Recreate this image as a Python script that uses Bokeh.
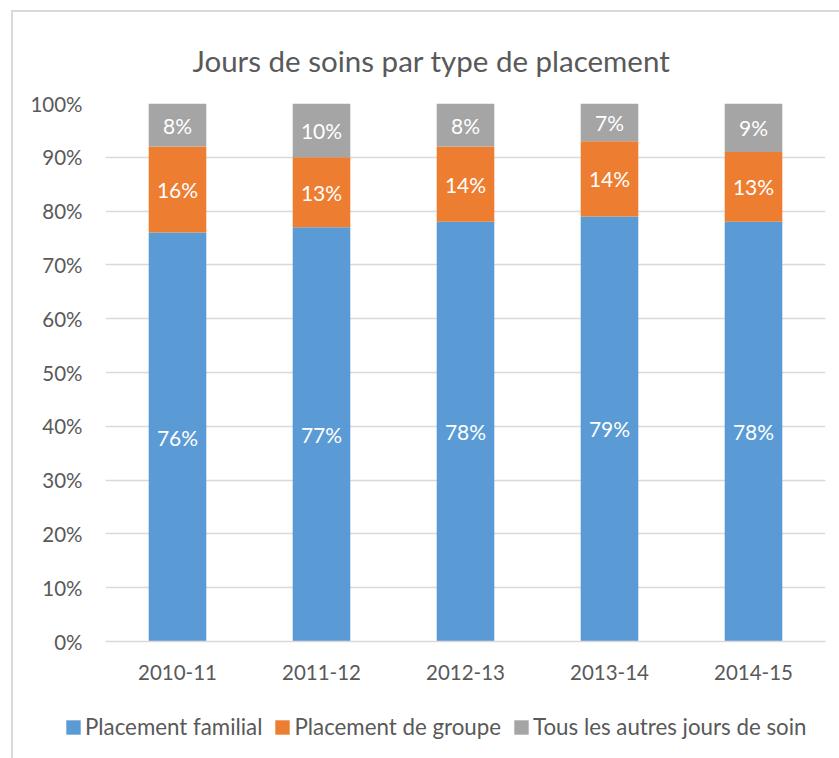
from bokeh.plotting import figure
from bokeh.models import (ColumnDataSource, Range1d, FactorRange, Legend,
                          LegendItem, FixedTicker)
from bokeh.core.properties import value
from bokeh.embed import file_html
from bokeh.resources import INLINE

# ---- data ----
years = ["2010-11", "2011-12", "2012-13", "2013-14", "2014-15"]
familial = [76, 77, 78, 79, 78]
groupe = [16, 13, 14, 14, 13]
autres = [8, 10, 8, 7, 9]
series_names = ["Placement familial", "Placement de groupe", "Tous les autres jours de soin"]
y_ticks = [0, 10, 20, 30, 40, 50, 60, 70, 80, 90, 100]
title_text = "Jours de soins par type de placement"

colors = ["#5B9BD5", "#ED7D31", "#A5A5A5"]
FONT = "Lato"
TXT = "#595959"
LINE = "linear-gradient(#D9D9D9,#D9D9D9)"

src = ColumnDataSource(dict(years=years, familial=familial, groupe=groupe, autres=autres))

p = figure(x_range=FactorRange(*years, range_padding=0), y_range=Range1d(0, 100),
           width=839, height=700, min_border_left=105, min_border_right=14,
           min_border_top=103, min_border_bottom=59,
           output_backend="svg", toolbar_location=None)
p.outline_line_color = None
p.background_fill_color = "white"
p.border_fill_alpha = 0
p.styles = {
    "background-color": "white",
    "background-image": f"{LINE}, {LINE}",
    "background-size": "2px 100%, 100% 2px",
    "background-position": "11px 10px, 11px 10px",
    "background-repeat": "no-repeat",
}

renderers = p.vbar_stack(["familial", "groupe", "autres"], x="years", width=0.4,
                         color=colors, line_color=None, source=src)

# data labels
lx, ly, lt = [], [], []
for i, yr in enumerate(years):
    base = 0
    for vals in (familial, groupe, autres):
        v = vals[i]
        lx.append(yr)
        ly.append(base + v / 2)
        lt.append(f"{v}%")
        base += v
p.text(x=lx, y=ly, text=lt, text_align="center", text_baseline="middle",
       text_color="white", text_font=value(FONT), text_font_size="21px")

# axes
p.yaxis.ticker = FixedTicker(ticks=y_ticks)
p.yaxis.major_label_overrides = {t: f"{t}%" for t in y_ticks}
for ax in (p.xaxis[0], p.yaxis[0]):
    ax.major_tick_line_color = None
    ax.minor_tick_line_color = None
    ax.major_tick_out = 0
    ax.major_tick_in = 0
    ax.major_label_text_font = FONT
    ax.major_label_text_font_size = "20.5px"
    ax.major_label_text_color = TXT
p.yaxis.axis_line_color = None
p.yaxis.major_label_standoff = 23
p.xaxis.axis_line_color = "#D9D9D9"
p.xaxis.axis_line_width = 1.3
p.xaxis.major_label_standoff = 23

p.xgrid.grid_line_color = None
p.ygrid.ticker = FixedTicker(ticks=y_ticks)
p.ygrid.grid_line_color = "#D9D9D9"
p.ygrid.grid_line_width = 1.3

# title
p.title.text = title_text
p.title.align = "left"
p.title.offset = 87
p.title.text_font = FONT
p.title.text_font_size = "29.5px"
p.title.text_font_style = "normal"
p.title.text_color = TXT
p.title.standoff = 51

# legend in its own strip spanning the full width (bars drawn out of view)
leg = figure(x_range=FactorRange(*years, range_padding=0), y_range=Range1d(200, 201),
             width=839, height=58, min_border=0,
             x_axis_location=None, y_axis_location=None,
             output_backend="svg", toolbar_location=None)
leg.outline_line_color = None
leg.grid.grid_line_color = None
leg.background_fill_alpha = 0
leg.border_fill_alpha = 0
leg.styles = {
    "background-color": "white",
    "background-image": LINE,
    "background-size": "2px 100%",
    "background-position": "11px 0px",
    "background-repeat": "no-repeat",
}
leg_r = leg.vbar_stack(["familial", "groupe", "autres"], x="years", width=0.4,
                       color=colors, line_color=None, source=src)
legend = Legend(items=[LegendItem(label=n, renderers=[r]) for n, r in zip(series_names, leg_r)],
                orientation="horizontal", location=(64, 18),
                glyph_width=18, glyph_height=18, label_standoff=3, spacing=11,
                padding=0, margin=0, border_line_color=None,
                background_fill_alpha=0,
                label_text_font=FONT, label_text_font_size="22.3px",
                label_text_color=TXT, label_height=20)
leg.add_layout(legend, "center")

open("out.html", "w").write(file_html([p, leg], INLINE))
